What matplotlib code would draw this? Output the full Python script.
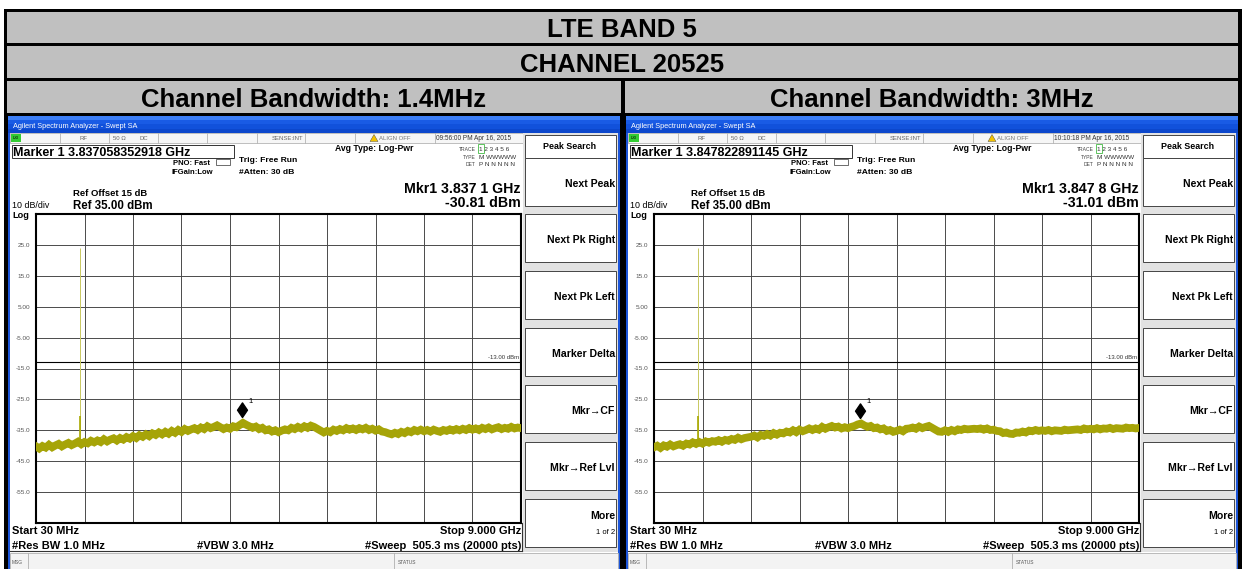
import numpy as np
import matplotlib.pyplot as plt
from matplotlib.patches import Rectangle, Polygon
from matplotlib.path import Path

plt.rcParams['font.family'] = ['Liberation Sans', 'DejaVu Sans']

W, H = 1243, 569

# table headings
band_title = 'LTE BAND 5'
channel_title = 'CHANNEL 20525'
bw_titles = ['Channel Bandwidth: 1.4MHz', 'Channel Bandwidth: 3MHz']

# analyzer setup (same on both screens)
start_ghz = 0.03
stop_ghz = 9.0
ref_dbm = 35.0
db_per_div = 10
limit_dbm = -13.0
carrier_ghz = 0.8365
carrier_peak = 24.0
carrier_skirt = -30.5
carrier_base = -38.6

# marker 1 readings
marker_long = ['3.837058352918', '3.847822891145']
marker_ghz = [3.8371, 3.8478]
marker_dbm = [-30.81, -31.01]
clock = ['09:56:00 PM Apr 16, 2015', '10:10:18 PM Apr 16, 2015']

# noise floor, dBm, sweep points spread evenly from start to stop
trace_14 = [-40.2, -40.9, -40.1, -40.6, -39.7, -40.5, -39.9, -39.4, -40.2, -39.6,
            -39.1, -39.8, -39.3, -38.7, -39.5, -38.8, -39.2, -38.4, -38.9, -38.3,
            -38.8, -37.9, -38.6, -38.0, -37.6, -38.3, -37.5, -38.0, -37.2, -37.7,
            -36.9, -37.5, -36.6, -37.1, -36.3, -36.9, -36.0, -36.5, -35.7, -36.3,
            -35.5, -36.1, -35.2, -35.8, -34.9, -35.5, -34.6, -35.2, -34.7, -34.3,
            -34.9, -34.1, -34.6, -33.7, -34.3, -33.9, -33.4, -34.0, -34.6, -34.1,
            -34.5, -33.7, -34.0, -33.3, -32.6, -33.2, -33.7, -34.2, -33.8, -34.6,
            -34.2, -35.0, -34.7, -35.4, -35.0, -35.6, -35.1, -34.7, -35.0, -34.2,
            -34.6, -33.9, -34.4, -33.7, -34.2, -33.5, -33.9, -34.5, -35.1, -35.7,
            -35.2, -35.6, -34.8, -35.2, -34.6, -35.0, -34.3, -34.8, -34.4, -34.9,
            -34.3, -34.7, -34.2, -34.9, -34.5, -35.1, -34.7, -35.4, -35.6, -36.0,
            -36.3, -35.8, -36.2, -35.5, -35.9, -35.2, -35.6, -34.9, -35.3, -34.8,
            -35.3, -34.9, -35.4, -34.8, -35.2, -35.5, -34.9, -35.2, -34.7, -35.1,
            -34.6, -35.0, -34.5, -34.9, -34.3, -34.8, -34.4, -34.9, -34.2, -34.6,
            -34.1, -34.7, -34.3, -34.0, -34.6, -34.2, -34.5, -33.9, -34.4, -34.1, -34.3]
trace_3 = [-40.5, -40.0, -40.7, -39.9, -40.3, -39.6, -40.2, -39.8, -39.5, -40.0,
           -39.3, -39.6, -38.9, -39.4, -38.8, -39.3, -38.6, -39.0, -38.5, -38.7,
           -38.2, -38.7, -38.1, -38.4, -37.8, -38.1, -37.4, -37.9, -37.5, -37.3,
           -37.1, -36.7, -37.3, -36.5, -36.8, -36.2, -36.7, -35.9, -36.4, -35.8,
           -36.0, -35.4, -35.7, -35.0, -35.6, -34.8, -35.3, -34.9, -34.4, -34.9,
           -34.4, -34.8, -33.9, -34.5, -34.0, -33.6, -34.1, -33.8, -34.4, -34.0,
           -34.3, -33.9, -33.6, -33.1, -32.8, -33.4, -33.9, -33.6, -34.3, -34.1,
           -34.7, -34.4, -35.2, -34.9, -35.5, -35.2, -34.8, -35.3, -34.5, -34.4,
           -34.1, -34.5, -33.8, -34.3, -33.9, -33.6, -34.2, -34.8, -35.4, -35.5,
           -35.0, -35.5, -34.9, -35.3, -34.7, -34.9, -34.5, -34.7, -34.6, -34.5,
           -34.6, -34.4, -34.8, -34.4, -34.9, -34.8, -35.2, -35.3, -35.9, -35.7,
           -36.1, -36.2, -35.7, -35.8, -35.4, -35.7, -35.1, -35.3, -34.9, -35.2,
           -35.0, -35.2, -34.9, -35.3, -35.0, -35.1, -35.2, -34.8, -35.0, -34.9,
           -34.8, -34.7, -34.9, -34.4, -34.7, -34.5, -34.7, -34.3, -34.7, -34.4,
           -34.5, -34.2, -34.6, -34.3, -34.4, -34.5, -34.1, -34.3, -34.2, -34.4, -34.2]
traces = [trace_14, trace_3]

softkeys = ['Next Peak', 'Next Pk Right', 'Next Pk Left', 'Marker Delta',
            'Mkr\u2192CF', 'Mkr\u2192Ref Lvl']

fig = plt.figure(figsize=(W / 100, H / 100), dpi=100)
bg = fig.add_axes([0, 0, 1, 1])
bg.set_xlim(0, W)
bg.set_ylim(H, 0)
bg.set_autoscale_on(False)
bg.axis('off')


def box(x0, y0, x1, y1, fc, ec='none', lw=0, z=1):
    bg.add_patch(Rectangle((x0, y0), x1 - x0, y1 - y0, facecolor=fc,
                           edgecolor=ec, linewidth=lw, zorder=z))


def txt(x, y, s, size, ha='left', weight='bold', color='black'):
    # y is the middle of the capital letters, in pixels
    base = y + 0.358 * size * 100 / 72
    bg.text(x, base, s, fontsize=size, ha=ha, va='baseline',
            fontweight=weight, color=color, zorder=5)


def vline(x, y0, y1, color, lw):
    bg.plot([x, x], [y0, y1], color=color, lw=lw, zorder=3)


def tick_text(v):
    return f'{v:.2f}' if abs(v) < 10 else f'{v:.1f}'


# ---- table frame and headings ----
box(4, 9, 1242, 569, 'black')
box(7, 12, 1238, 43, '#c0c0c0')
box(7, 46, 1238, 78, '#c0c0c0')
box(7, 81, 621, 113, '#c0c0c0')
box(625, 81, 1238, 113, '#c0c0c0')
txt(622, 28, band_title, 18.5, ha='center')
txt(622, 62.5, channel_title, 18.5, ha='center')
txt(314, 98, bw_titles[0], 18.5, ha='center')
txt(932, 98, bw_titles[1], 18.5, ha='center')

title_grad = np.array([[0.24, 0.50, 0.97], [0.10, 0.36, 0.90], [0.07, 0.32, 0.86],
                       [0.05, 0.28, 0.80]])[:, None, :]
diamond = Path([(0, 0), (0.95, 1.4), (0, 2.8), (-0.95, 1.4), (0, 0)])


def draw_panel(ox, k):
    # window body
    box(ox + 8, 116, ox + 620, 569, 'white')
    box(ox + 8, 116, ox + 10, 569, '#1c55d9', z=2)
    box(ox + 618, 116, ox + 620, 569, '#1c55d9', z=2)
    bg.imshow(title_grad, extent=[ox + 8, ox + 620, 133, 116], aspect='auto', zorder=2)
    txt(ox + 13, 125, 'Agilent Spectrum Analyzer - Swept SA', 5.3, weight='normal', color='white')

    # status row
    box(ox + 10, 133, ox + 523, 143, '#f6f6f6', ec='#b4b4b4', lw=0.6, z=2)
    for sx in [60, 109, 158, 207, 257, 305, 355, 435]:
        vline(ox + sx, 133, 143, '#b4b4b4', 0.6)
    box(ox + 11, 134, ox + 21, 142, '#33cc33', z=3)
    txt(ox + 16, 138, 'LXI', 3, ha='center', weight='normal')
    txt(ox + 80, 138, 'RF', 4.3, weight='normal', color='#666')
    txt(ox + 113, 138, '50 \u03a9', 4.3, weight='normal', color='#666')
    txt(ox + 140, 138, 'DC', 4.3, weight='normal', color='#666')
    txt(ox + 303, 138, 'SENSE:INT', 4.3, ha='right', weight='normal', color='#666')
    bg.add_patch(Polygon([(ox + 370, 141.5), (ox + 378, 141.5), (ox + 374, 134.5)],
                         facecolor='#f2c200', edgecolor='#444', lw=0.3, zorder=4))
    txt(ox + 379, 138, 'ALIGN OFF', 4.3, weight='normal', color='#777')
    txt(ox + 436, 138, clock[k], 4.7, weight='normal', color='#333')

    # marker frequency box
    box(ox + 12, 145, ox + 234, 158, 'white', ec='#333', lw=0.7, z=2)
    txt(ox + 13, 151.5, f'Marker 1 {marker_long[k]} GHz', 9)

    # acquisition settings
    txt(ox + 210, 162, 'PNO: Fast', 5.5, ha='right')
    box(ox + 216, 158.5, ox + 230, 165, 'white', ec='#333', lw=0.5, z=2)
    txt(ox + 213, 171, 'IFGain:Low', 5.5, ha='right')
    txt(ox + 239, 159, 'Trig: Free Run', 6.1)
    txt(ox + 239, 170.5, '#Atten: 30 dB', 6.1)
    txt(ox + 335, 147.5, 'Avg Type: Log-Pwr', 6.2)

    # trace table
    box(ox + 478, 143.5, ox + 484, 153, 'white', ec='#44bb44', lw=0.6, z=2)
    for ty, lab, val in [(149, 'TRACE', '1 2 3 4 5 6'), (157, 'TYPE', 'M WWWWW'),
                         (164, 'DET', 'P N N N N N')]:
        txt(ox + 476, ty, lab, 3.6, ha='right', weight='normal', color='#444')
        txt(ox + 479, ty, val, 4.6, weight='normal', color='#333')

    # marker readout
    mg, md = marker_ghz[k], marker_dbm[k]
    fs = f'{mg:.4f}'
    txt(ox + 521, 188, f'Mkr1 {fs[:5]} {fs[5:]} GHz', 10.2, ha='right')
    txt(ox + 521, 201.5, f'{md:.2f} dBm', 10.2, ha='right')

    # reference level block
    txt(ox + 73, 193, 'Ref Offset 15 dB', 6.8)
    txt(ox + 73, 204.5, f'Ref {ref_dbm:.2f} dBm', 8.3)
    txt(ox + 12, 204.5, f'{db_per_div} dB/div', 6.4, weight='normal')
    txt(ox + 12, 214.5, 'Log', 6.6)

    # softkey column
    box(ox + 523, 133, ox + 618, 552, '#e2e2e2', z=2)
    box(ox + 525, 135, ox + 616, 158, 'white', ec='#444', lw=0.7, z=3)
    txt(ox + 570, 146, 'Peak Search', 6.4, ha='center')
    tops = [158, 214, 271, 328, 385, 442]
    for top, lab in zip(tops, softkeys):
        box(ox + 525, top, ox + 616, top + 48, 'white', ec='#444', lw=0.7, z=3)
        txt(ox + 615, top + 25, lab, 7.6, ha='right')
    box(ox + 525, 499, ox + 616, 547, 'white', ec='#444', lw=0.7, z=3)
    txt(ox + 615, 515, 'More', 7.6, ha='right')
    txt(ox + 615, 531, '1 of 2', 5.5, ha='right', weight='normal')

    # sweep info under the graticule
    txt(ox + 12, 530, f'Start {start_ghz * 1000:.0f} MHz', 8)
    txt(ox + 521, 530, f'Stop {stop_ghz:.3f} GHz', 8, ha='right')
    txt(ox + 12, 545, '#Res BW 1.0 MHz', 8)
    txt(ox + 197, 545, '#VBW 3.0 MHz', 8)
    txt(ox + 521, 545, '#Sweep  505.3 ms (20000 pts)', 8, ha='right')
    vline(ox + 522.5, 523, 551, '#333', 0.8)
    bg.plot([ox + 10, ox + 522.5], [551, 551], color='#333', lw=0.8, zorder=3)

    # message bar
    box(ox + 10, 553, ox + 618, 569, '#f3f3f3', ec='#b0b0b0', lw=0.6, z=2)
    vline(ox + 28, 553, 569, '#b0b0b0', 0.6)
    vline(ox + 394, 553, 569, '#b0b0b0', 0.6)
    txt(ox + 12, 562, 'MSG', 3.5, weight='normal', color='#555')
    txt(ox + 398, 562, 'STATUS', 3.5, weight='normal', color='#555')

    # graticule
    ax = fig.add_axes([(ox + 36) / W, 1 - 523 / H, 485 / W, 309 / H])
    ax.set_xlim(start_ghz, stop_ghz)
    ax.set_ylim(ref_dbm - 10 * db_per_div, ref_dbm)
    ax.set_xticks(np.linspace(start_ghz, stop_ghz, 11))
    ax.set_xticklabels([])
    levels = [ref_dbm - db_per_div * i for i in range(1, 10)]
    ax.set_yticks(levels)
    ax.set_yticklabels([tick_text(v) for v in levels], fontsize=4.6, color='#555')
    ax.tick_params(length=0, pad=4.2)
    ax.grid(True, color='#4a4a4a', lw=0.7)
    ax.set_axisbelow(True)
    for sp in ax.spines.values():
        sp.set_linewidth(1.5)
        sp.set_color('black')

    ax.axhline(limit_dbm, color='black', lw=0.8, zorder=2)
    ax.text(0.997, limit_dbm + 0.6, f'{limit_dbm:.2f} dBm', transform=ax.get_yaxis_transform(),
            ha='right', va='bottom', fontsize=4.3, color='#333')

    tr = traces[k]
    f = np.linspace(start_ghz, stop_ghz, len(tr))
    ax.vlines(carrier_ghz, carrier_base, carrier_peak, color='#c8c860', lw=0.7, zorder=3)
    ax.vlines(carrier_ghz, carrier_base, carrier_skirt, color='#a8a800', lw=1.2, zorder=3)
    ax.plot(f, tr, color='#a6a408', lw=5.6, zorder=4, solid_joinstyle='miter')

    ax.plot([mg], [md], marker=diamond, markersize=21, color='black', zorder=6)
    ax.annotate('1', (mg, md), xytext=(4.5, 11.5), textcoords='offset points',
                fontsize=5.5, ha='left', va='center', zorder=6)


draw_panel(0, 0)
draw_panel(618, 1)

fig.savefig('out.png', dpi=100)
